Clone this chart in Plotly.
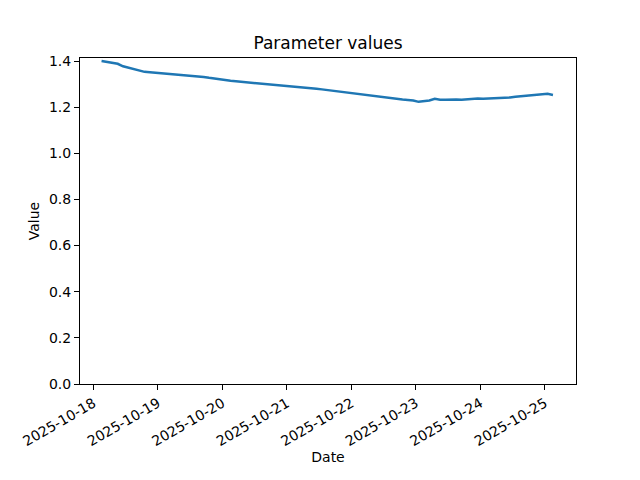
import plotly.graph_objects as go
import pandas as pd

start_time = "2025-10-18 03:00"
step_hours = 2
values = [
    1.400, 1.397, 1.393, 1.388, 1.377, 1.371, 1.364, 1.359, 1.353, 1.351,
    1.349, 1.346, 1.345, 1.342, 1.343, 1.341, 1.339, 1.336, 1.333, 1.331,
    1.327, 1.323, 1.320, 1.316, 1.314, 1.312, 1.310, 1.307, 1.305, 1.304,
    1.302, 1.300, 1.299, 1.297, 1.295, 1.292, 1.290, 1.287, 1.285, 1.283,
    1.280, 1.277, 1.274, 1.271, 1.268, 1.265, 1.262, 1.258, 1.255, 1.251,
    1.248, 1.245, 1.242, 1.239, 1.237, 1.235, 1.233, 1.231, 1.229, 1.223,
    1.225, 1.229, 1.236, 1.232, 1.232, 1.234, 1.233, 1.232, 1.234, 1.235,
    1.238, 1.236, 1.237, 1.237, 1.238, 1.240, 1.242, 1.245, 1.247, 1.249,
    1.251, 1.253, 1.255, 1.258, 1.253,
]
tick_dates = ["2025-10-18", "2025-10-19", "2025-10-20", "2025-10-21",
              "2025-10-22", "2025-10-23", "2025-10-24", "2025-10-25"]
y_ticks = [0.0, 0.2, 0.4, 0.6, 0.8, 1.0, 1.2, 1.4]

times = pd.date_range(start=start_time, periods=len(values), freq=f"{step_hours}h")

fig = go.Figure()
fig.add_trace(go.Scatter(x=times, y=values, mode="lines",
                         line=dict(color="#1f77b4", width=2.5)))

font = dict(family="DejaVu Sans", size=14, color="black")
fig.update_layout(
    width=640, height=480,
    margin=dict(l=80, r=64, t=58, b=96, autoexpand=False),
    paper_bgcolor="white", plot_bgcolor="white",
    showlegend=False,
    font=font,
    title=dict(text="Parameter values", x=(80 + 576) / 2 / 640, xanchor="center",
               y=1 - 43 / 480, yanchor="middle",
               font=dict(family="DejaVu Sans", size=17, color="black")),
)
fig.update_xaxes(
    type="date",
    range=["2025-10-17 18:59", "2025-10-25 11:34"],
    tickvals=tick_dates, ticktext=tick_dates,
    tickangle=-30,
    ticks="outside", ticklen=5, tickcolor="black",
    showline=True, linecolor="black", linewidth=1, mirror=True,
    showgrid=False, zeroline=False, automargin=False,
    title=dict(text="Date", standoff=4, font=font),
    tickfont=font,
)
fig.update_yaxes(
    range=[0, 1.413],
    tickvals=y_ticks, ticktext=[f"{v:.1f}" for v in y_ticks],
    ticks="outside", ticklen=5, tickcolor="black",
    showline=True, linecolor="black", linewidth=1, mirror=True,
    showgrid=False, zeroline=False, automargin=False,
    title=dict(text="Value", standoff=6, font=font),
    tickfont=font,
)

fig.write_html("out.html", config={"displayModeBar": False},
               post_script="document.body.style.margin='0';")
